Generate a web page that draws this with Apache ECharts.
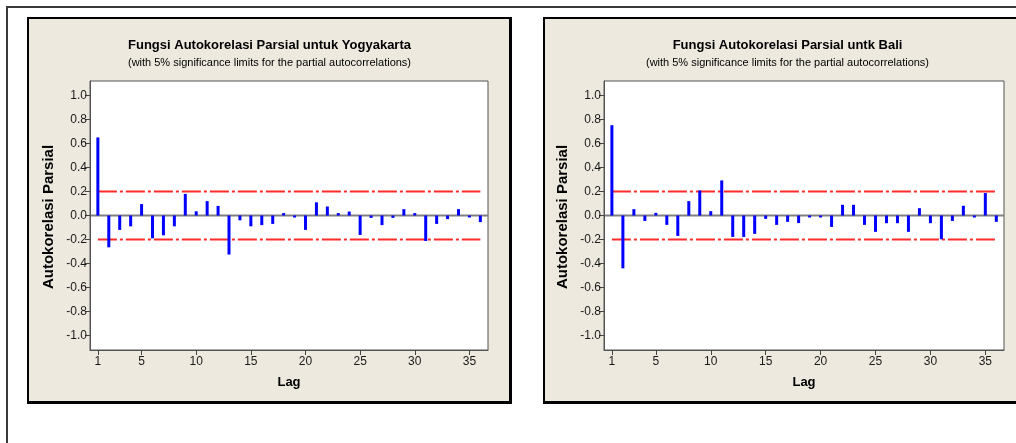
<!DOCTYPE html>
<html>
<head>
<meta charset="utf-8">
<script src="https://cdn.jsdelivr.net/npm/echarts@6/dist/echarts.min.js"></script>
<style>
  html, body { margin: 0; padding: 0; background: #ffffff; }
  #chart { width: 1016px; height: 443px; }
</style>
</head>
<body>
<div id="chart"></div>
<script>
// Lags 1..36 of the partial autocorrelation function
const lags = [1, 2, 3, 4, 5, 6, 7, 8, 9, 10, 11, 12, 13, 14, 15, 16, 17, 18,
              19, 20, 21, 22, 23, 24, 25, 26, 27, 28, 29, 30, 31, 32, 33, 34, 35, 36];

// PACF values, Yogyakarta
const pacfYogyakarta = [0.65, -0.265, -0.12, -0.09, 0.095, -0.19, -0.165, -0.09, 0.18, 0.035,
                        0.12, 0.08, -0.325, -0.04, -0.09, -0.08, -0.07, 0.02, -0.012, -0.12,
                        0.11, 0.075, 0.02, 0.033, -0.162, -0.02, -0.08, -0.02, 0.053, 0.02,
                        -0.212, -0.07, -0.03, 0.053, -0.006, -0.055];

// PACF values, Bali
const pacfBali = [0.752, -0.44, 0.053, -0.045, 0.022, -0.078, -0.17, 0.12, 0.208, 0.036,
                  0.292, -0.178, -0.178, -0.153, -0.028, -0.078, -0.053, -0.063, -0.011, -0.005,
                  -0.095, 0.089, 0.089, -0.078, -0.136, -0.064, -0.064, -0.136, 0.061, -0.064,
                  -0.198, -0.045, 0.081, -0.011, 0.187, -0.053];

// 5% significance limit for the partial autocorrelations
const sigLimit = 0.2;

// Tick labels
const xTickLags = [1, 5, 10, 15, 20, 25, 30, 35];
const yTicks = [-1.0, -0.8, -0.6, -0.4, -0.2, 0.0, 0.2, 0.4, 0.6, 0.8, 1.0];

// Titles
const titles = ['Fungsi Autokorelasi Parsial untuk Yogyakarta', 'Fungsi Autokorelasi Parsial untk Bali'];
const subtitle = '(with 5% significance limits for the partial autocorrelations)';
const yName = 'Autokorelasi Parsial';
const xName = 'Lag';

const FONT = '"Liberation Sans", Arial, sans-serif';
const TAN = '#ede9df';
const X_MIN = 0.28, X_MAX = 36.7, Y_MIN = -1.12, Y_MAX = 1.12;

const panels = [
  { grid: { left: 90, top: 81, width: 398, height: 269 }, box: [27, 17, 485, 387], titleX: 269.5, values: pacfYogyakarta },
  { grid: { left: 604, top: 81, width: 400, height: 269 }, box: [543, 17, 520, 387], titleX: 787.5, values: pacfBali }
];

const grids = [], xAxes = [], yAxes = [], series = [], graphics = [];

// Outer frame
graphics.push({
  type: 'rect', z: 0, silent: true,
  shape: { x: 7, y: 7, width: 1100, height: 500 },
  style: { fill: '#ffffff', stroke: '#3a3a3a', lineWidth: 2 }
});

panels.forEach((p, i) => {
  const [bx, by, bw, bh] = p.box;
  // Panel: black frame (heavier on right/bottom) with tan fill
  graphics.push({ type: 'rect', z: 1, silent: true, shape: { x: bx, y: by, width: bw, height: bh }, style: { fill: '#000000' } });
  graphics.push({ type: 'rect', z: 2, silent: true, shape: { x: bx + 2, y: by + 2, width: bw - 5, height: bh - 5 }, style: { fill: TAN } });
  // Title and subtitle
  graphics.push({ type: 'text', z: 3, silent: true, x: p.titleX, y: 45,
    style: { text: titles[i], font: 'bold 13px ' + FONT, fill: '#000', textAlign: 'center', textVerticalAlign: 'middle' } });
  graphics.push({ type: 'text', z: 3, silent: true, x: p.titleX, y: 63,
    style: { text: subtitle, font: '11px ' + FONT, fill: '#000', textAlign: 'center', textVerticalAlign: 'middle' } });
  // Y axis name
  graphics.push({ type: 'text', z: 3, silent: true, x: p.grid.left - 41, y: 217, rotation: Math.PI / 2,
    style: { text: yName, font: 'bold 15px ' + FONT, fill: '#000', textAlign: 'center', textVerticalAlign: 'middle' } });

  grids.push(Object.assign({ show: true, backgroundColor: '#ffffff', borderColor: '#555555', borderWidth: 1, z: 3 }, p.grid));

  xAxes.push({
    type: 'value', gridIndex: i, min: X_MIN, max: X_MAX, z: 6,
    splitLine: { show: false },
    axisLine: { show: true, onZero: false, lineStyle: { color: '#555555', width: 1 } },
    axisTick: { show: true, customValues: xTickLags, length: 5, lineStyle: { color: '#444444' } },
    axisLabel: { customValues: xTickLags, fontSize: 12, fontFamily: FONT, color: '#1a1a1a', margin: 6 },
    name: xName, nameLocation: 'middle', nameGap: 26,
    nameTextStyle: { fontSize: 13, fontWeight: 'bold', fontFamily: FONT, color: '#000' }
  });

  yAxes.push({
    type: 'value', gridIndex: i, min: Y_MIN, max: Y_MAX, z: 6,
    splitLine: { show: false },
    axisLine: { show: true, lineStyle: { color: '#555555', width: 1 } },
    axisTick: { show: true, customValues: yTicks, length: 5, lineStyle: { color: '#444444' } },
    axisLabel: { customValues: yTicks, fontSize: 12, fontFamily: FONT, color: '#1a1a1a', margin: 3,
                 formatter: v => v.toFixed(1) }
  });

  // Zero reference line
  series.push({
    type: 'line', xAxisIndex: i, yAxisIndex: i, z: 4, silent: true, symbol: 'none',
    data: [[X_MIN, 0], [X_MAX, 0]],
    lineStyle: { color: '#808080', width: 2 }
  });
  // Significance limits
  [sigLimit, -sigLimit].forEach(lim => {
    series.push({
      type: 'line', xAxisIndex: i, yAxisIndex: i, z: 4, silent: true, symbol: 'none',
      data: [[lags[0], lim], [lags[lags.length - 1], lim]],
      lineStyle: { color: '#ff2a2a', width: 2, type: [19, 3, 3, 3] }
    });
  });
  // PACF spikes
  series.push({
    type: 'bar', xAxisIndex: i, yAxisIndex: i, z: 5, silent: true,
    barWidth: 3, barMinHeight: 2,
    itemStyle: { color: '#0000ff' },
    data: lags.map((lag, k) => [lag, p.values[k]])
  });
});

const chart = echarts.init(document.getElementById('chart'), null, { renderer: 'canvas' });
chart.setOption({
  animation: false,
  backgroundColor: '#ffffff',
  graphic: graphics,
  grid: grids,
  xAxis: xAxes,
  yAxis: yAxes,
  series: series
});
</script>
</body>
</html>
